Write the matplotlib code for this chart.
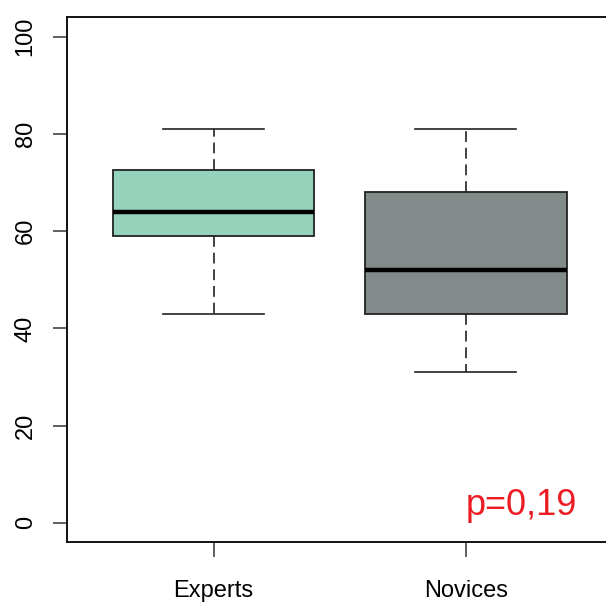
import matplotlib

matplotlib.use("Agg")
import matplotlib.pyplot as plt

groups = ["Experts", "Novices"]
whisker_low = [43, 31]
q1 = [59, 43]
medians = [64, 52]
q3 = [72.5, 68]
whisker_high = [81, 81]
fill_colors = ["#96d3bc", "#838a8a"]
y_ticks = [0, 20, 40, 60, 80, 100]
p_label = "p=0,19"

plt.rcParams["font.family"] = ["Liberation Sans", "DejaVu Sans"]

fig = plt.figure(figsize=(6.06, 6.02), dpi=100)
ax = fig.add_axes([67.3 / 606, 1 - 542.3 / 602, (612 - 67.3) / 606, (542.3 - 17.3) / 602])

stats = [
    dict(label=g, whislo=lo, q1=a, med=m, q3=b, whishi=hi, fliers=[])
    for g, lo, a, m, b, hi in zip(groups, whisker_low, q1, medians, q3, whisker_high)
]
bp = ax.bxp(
    stats,
    positions=[1, 2],
    widths=0.8,
    patch_artist=True,
    showfliers=False,
    boxprops=dict(edgecolor="#222222", linewidth=1.3),
    medianprops=dict(color="black", linewidth=3.2, solid_capstyle="butt"),
    whiskerprops=dict(color="#222222", linewidth=1.2, linestyle=(0, (6.5, 3.5))),
    capprops=dict(color="#222222", linewidth=1.2),
    capwidths=0.4,
)
for patch, color in zip(bp["boxes"], fill_colors):
    patch.set_facecolor(color)

ax.set_xlim(0.42, 2.58)
ax.set_ylim(-4, 104)
ax.set_yticks(y_ticks)
ax.set_yticklabels([str(t) for t in y_ticks], rotation=90, va="center")
ax.set_xticks([1, 2])
ax.set_xticklabels(groups)
ax.tick_params(axis="y", length=10, width=1.2, color="#444444", labelsize=17, pad=12)
ax.tick_params(axis="x", length=11, width=1.2, color="#444444", labelsize=17, pad=16)
for spine in ax.spines.values():
    spine.set_linewidth(1.4)
    spine.set_color("#111111")

ax.text(2.22, 1.7, p_label, color="#ec1c24", fontsize=26, ha="center", va="baseline")

fig.savefig("out.png", dpi=100)
